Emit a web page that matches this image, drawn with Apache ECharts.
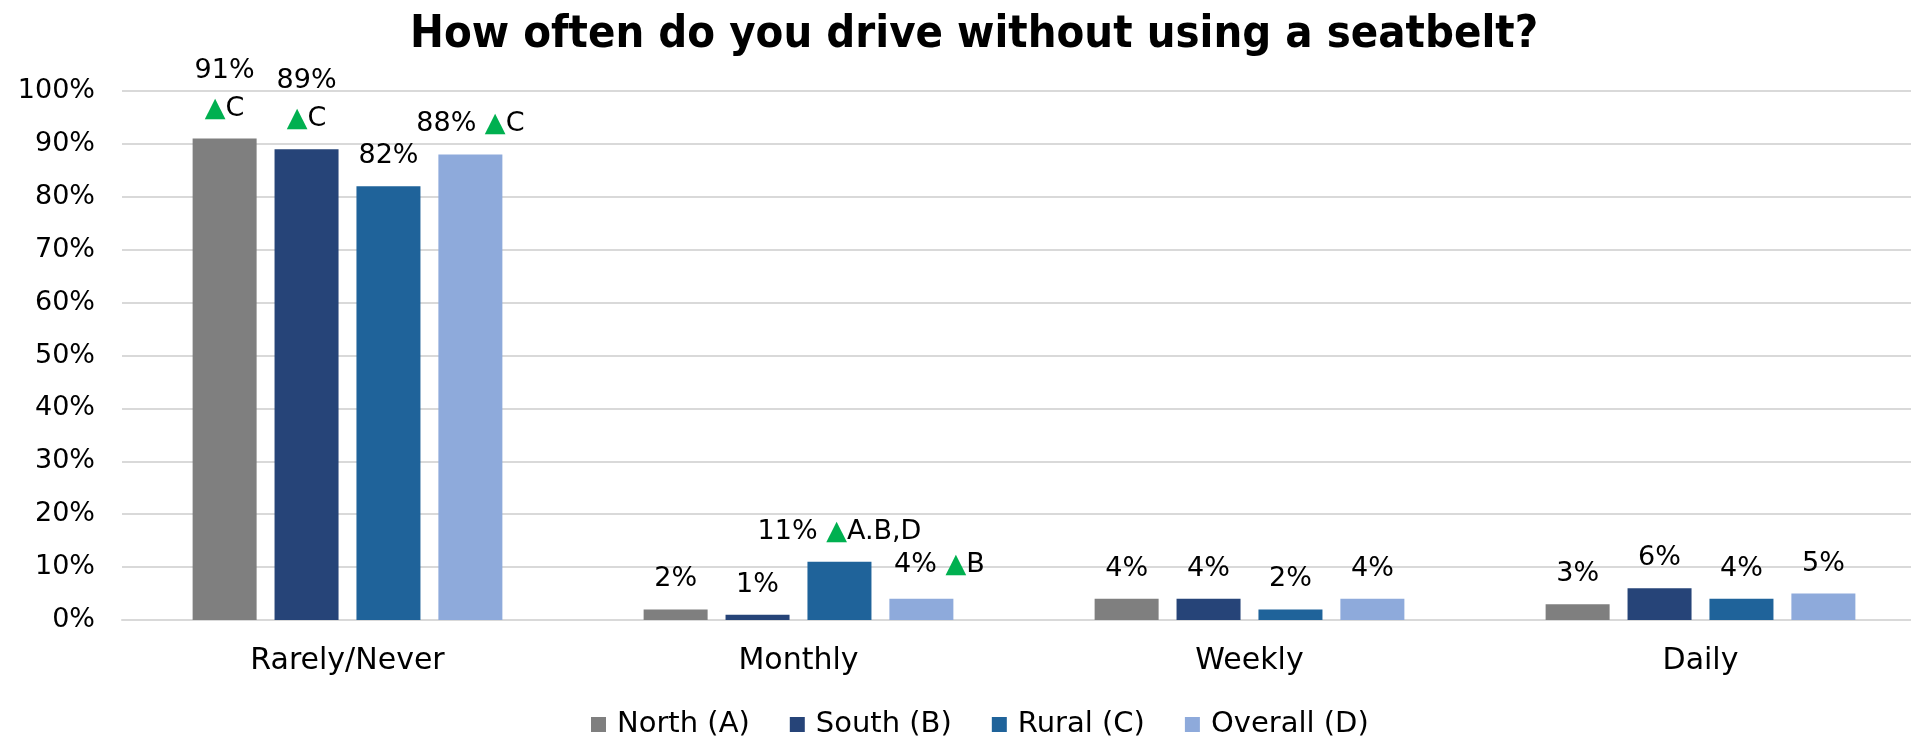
<!DOCTYPE html>
<html>
<head>
<meta charset="utf-8">
<title>Seatbelt use</title>
<script src="https://cdn.jsdelivr.net/npm/echarts@6/dist/echarts.min.js"></script>
<style>
  html, body { margin: 0; padding: 0; background: #ffffff; }
  #chart { width: 1911px; height: 740px; }
</style>
</head>
<body>
<div id="chart"></div>
<script>
// Survey answers, percent of respondents
const categories = ['Rarely/Never', 'Monthly', 'Weekly', 'Daily'];
const seriesNames = ['North (A)', 'South (B)', 'Rural (C)', 'Overall (D)'];

const northValues   = [91, 2, 4, 3];
const southValues   = [89, 1, 4, 6];
const ruralValues   = [82, 11, 2, 4];
const overallValues = [88, 4, 4, 5];

// Significantly higher than the listed groups
const northSig   = ['C', '', '', ''];
const southSig   = ['C', '', '', ''];
const ruralSig   = ['', 'A.B,D', '', ''];
const overallSig = ['C', 'B', '', ''];

const yTicks = [0, 10, 20, 30, 40, 50, 60, 70, 80, 90, 100];

const colors = ['#7F7F7F', '#264478', '#1F639A', '#8EAADB'];
const FONT = "'DejaVu Sans', sans-serif";

const valueSets = [northValues, southValues, ruralValues, overallValues];
const sigSets = [northSig, southSig, ruralSig, overallSig];
// North and South put the significance marker under the value
const stackedSig = [true, true, false, false];

function makeSeries(idx) {
  const vals = valueSets[idx];
  const sig = sigSets[idx];
  return {
    name: seriesNames[idx],
    type: 'bar',
    barWidth: 64,
    barGap: '28%',
    itemStyle: { color: colors[idx] },
    data: vals.map(function (v, i) {
      const item = { value: v };
      // nudge the Overall/Monthly label clear of its neighbour
      if (idx === 3 && i === 1) {
        item.label = { offset: [18, -4] };
      }
      return item;
    }),
    label: {
      show: true,
      position: 'top',
      distance: 11,
      fontFamily: FONT,
      fontSize: 27,
      color: '#000000',
      lineHeight: 38,
      formatter: function (p) {
        const s = sig[p.dataIndex];
        let txt = p.value + '%';
        if (s) {
          txt += (stackedSig[idx] ? '\n' : ' ') + '{tri|▲}{t|' + s + '}';
        }
        return txt;
      },
      rich: {
        tri: { color: '#00B050', fontSize: 27, fontFamily: FONT, lineHeight: 38 },
        t: { color: '#000000', fontSize: 27, fontFamily: FONT, lineHeight: 38 }
      }
    }
  };
}

const chart = echarts.init(document.getElementById('chart'), null, { renderer: 'canvas' });

chart.setOption({
  animation: false,
  backgroundColor: '#ffffff',
  title: {
    text: 'How often do you drive without using a seatbelt?',
    left: 410,
    top: 13,
    padding: 0,
    textStyle: {
      fontFamily: "'DejaVu Sans Condensed', sans-serif",
      fontWeight: 'bold',
      fontSize: 45,
      color: '#000000'
    }
  },
  legend: {
    data: seriesNames,
    left: 586,
    top: 705,
    itemWidth: 15,
    itemHeight: 15,
    itemGap: 40,
    icon: 'rect',
    textStyle: {
      fontFamily: FONT,
      fontSize: 29,
      color: '#000000',
      padding: [0, 0, 0, 6]
    }
  },
  grid: {
    left: 122,
    width: 1804,
    top: 91,
    bottom: 120,
    containLabel: false,
    outerBoundsMode: 'none'
  },
  xAxis: {
    type: 'category',
    data: categories,
    axisLine: { show: true, lineStyle: { color: '#D9D9D9', width: 2 } },
    axisTick: { show: false },
    axisLabel: {
      margin: 26,
      fontFamily: FONT,
      fontSize: 30,
      color: '#000000'
    }
  },
  yAxis: {
    type: 'value',
    min: yTicks[0],
    max: yTicks[yTicks.length - 1],
    interval: yTicks[1] - yTicks[0],
    axisLine: { show: false },
    axisTick: { show: false },
    splitLine: { lineStyle: { color: '#D9D9D9', width: 2 } },
    axisLabel: {
      margin: 27,
      fontFamily: FONT,
      fontSize: 27,
      color: '#000000',
      formatter: '{value}%'
    }
  },
  series: [0, 1, 2, 3].map(makeSeries)
});
</script>
</body>
</html>
